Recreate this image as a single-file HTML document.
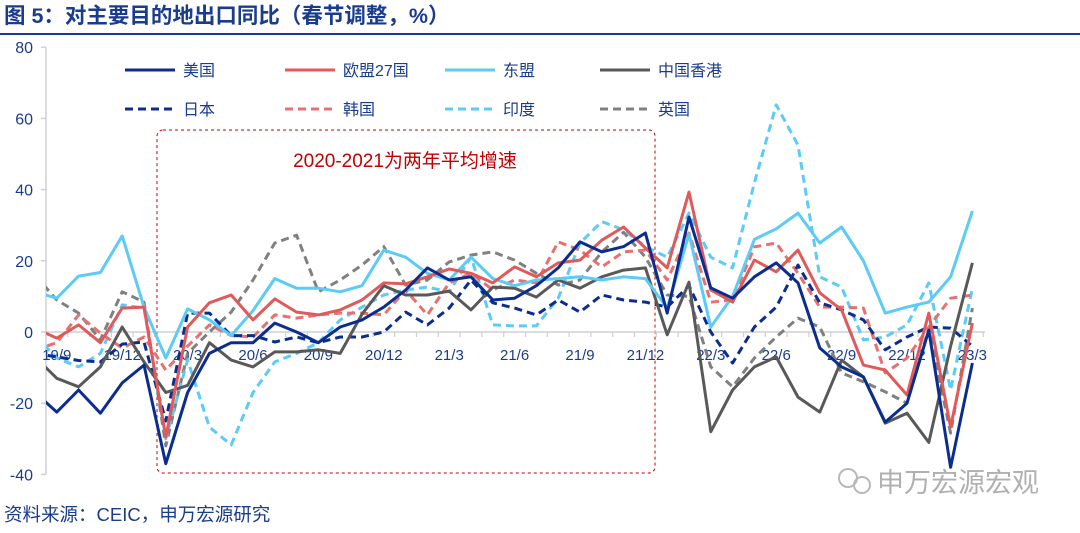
<!DOCTYPE html>
<html><head><meta charset="utf-8"><style>
body{margin:0;width:1080px;height:528px;background:#fff;overflow:hidden;font-family:"Liberation Sans","Noto Sans CJK SC",sans-serif;}
</style></head><body>
<svg id="chart" width="1080" height="528" xmlns="http://www.w3.org/2000/svg" font-family="Liberation Sans, Noto Sans CJK SC, sans-serif">
<text x="4" y="23" font-size="21.5" font-weight="bold" fill="#1a3c8c">图 5：对主要目的地出口同比（春节调整，%）</text>
<line x1="0" y1="34" x2="1080" y2="34" stroke="#1a3c8c" stroke-width="2"/>
<text x="4" y="521" font-size="18.5" fill="#1a3c8c">资料来源：CEIC，申万宏源研究</text>
<g fill="none" stroke="#b8b8b8" stroke-width="2">
<circle cx="848" cy="478" r="9"/><circle cx="862" cy="485" r="8"/>
</g>
<text x="877" y="492" font-size="27" fill="#b0b0b0">申万宏源宏观</text>
<defs><clipPath id="plotclip"><rect x="46" y="30" width="940" height="460"/></clipPath></defs>
<rect x="157" y="130" width="498" height="343" rx="6" fill="none" stroke="#c00000" stroke-width="1" stroke-dasharray="3,3"/>
<text x="405" y="167" font-size="19" fill="#c00000" text-anchor="middle">2020-2021为两年平均增速</text>
<g id="axes"></g>
<g id="series" clip-path="url(#plotclip)"></g>
<g id="legend"></g>
</svg>
<script>
const categories=["19/8","19/9","19/10","19/11","19/12","20/1","20/2","20/3","20/4","20/5","20/6","20/7","20/8","20/9","20/10","20/11","20/12","21/1","21/2","21/3","21/4","21/5","21/6","21/7","21/8","21/9","21/10","21/11","21/12","22/1","22/2","22/3","22/4","22/5","22/6","22/7","22/8","22/9","22/10","22/11","22/12","23/1","23/2","23/3"];
const xTickLabels=["19/9","19/12","20/3","20/6","20/9","20/12","21/3","21/6","21/9","21/12","22/3","22/6","22/9","22/12","23/3"];
const yTicks=[-40,-20,0,20,40,60,80];
const usVals=[-17,-22.5,-16.3,-22.8,-14.3,-9.3,-37,-17,-6,-3,-3,2.5,0,-3,1.4,3.4,7,11.8,18,14.6,15.5,9,9.5,13,18,25.3,22.5,24,27.8,5.3,32.3,12.4,9.5,15.5,19.4,13.8,-4.5,-9.8,-12.6,-25.3,-20,0.5,-38,-8.7];
const euVals=[1,-1.7,2,-3,6.7,7,-29.5,1.4,8.2,10.4,3.4,9.3,5.6,4.8,6.2,9,13.8,13.5,15.5,17.7,16.5,13.8,18.3,15.5,19.4,20.2,25.8,29.5,23.6,18,39.3,11.8,8.4,20.2,16.9,23,11,6.2,-9.3,-10.7,-17.7,5.3,-26.7,2.5];
const aseanVals=[11.3,9.5,15.7,16.7,27,7,-7.3,6.5,3.4,-1,6,15,12.3,12.3,11.3,13,23,21,16.5,14.6,21,15,13,14.6,15,15.5,14.6,15.5,15,6.7,27.5,1.4,10,26,29,33.4,25,29.5,20,5.3,7,8.4,15.5,34];
const hkVals=[-7,-13,-15.4,-9.8,1.4,-8.4,-17,-15,-3,-7.9,-9.8,-5.6,-5.6,-5,-6,5,13,10.4,10.4,11.5,6.2,12.6,12.3,9.8,14.6,12.3,15.5,17.4,18,-0.8,14,-28,-16.3,-9.8,-7,-18.3,-22.5,-7.9,-12.6,-25.6,-22.8,-31,-4,19.4];
const japanVals=[-6,-7,-8,-8.4,-3.4,-2.8,-25,5.3,5.3,-1,-1,-2.8,-1.4,-3,-1.4,-1.4,0,5.6,2,6.7,14.6,8.2,6.7,4.8,9,5.6,10.4,9,8.4,7,13,0,-8.7,1.4,7,18.8,8.2,6.2,3.4,-5,-1.4,1.4,1.1,-4];
const koreaVals=[-5,-3,4.8,-0.3,-4.5,-1.4,-10.7,-4,2,-1,-1.4,4.8,3.9,4.8,5.3,5.3,4.8,11.8,4.8,13.8,16.5,11.8,14.6,13.8,25.3,23,18.3,22.5,23,14.6,27.8,8.4,9,23.9,25,16.5,7,7,6.7,-11.5,-7.3,1.4,9.5,10.4];
const indiaVals=[-1,-7.3,-9.8,-6,7.6,6.7,-30,-7.9,-26.7,-31.7,-17,-8.4,-6,-3,3.4,7,10.4,11.8,12.6,11.3,21,2,1.7,1.7,9.5,25,31,28.7,24,21,33.4,21,18,41.9,63.8,52.5,15.5,12.6,-2.2,-1.4,2,13.8,-16.3,12.3];
const ukVals=[16,9,5.3,-2.2,11.3,8.4,-32,-6,0,5.6,14.6,25,27.2,11.3,14.6,18.8,24,13.2,14.6,19.7,21.6,22.5,20.2,16.5,13.2,14.6,22.5,28,21,10.4,10,-9.8,-15.4,-7.3,-1.4,3.9,1.4,-11.5,-14,-16.8,-20,1.1,-28.4,6.7];

const NS="http://www.w3.org/2000/svg";
const X0=35, DX=21.8, Y0=332, PY=3.56;
function xs(i){return X0+i*DX;}
function ys(v){return Y0-v*PY;}
function mk(tag,attrs,parent){const e=document.createElementNS(NS,tag);for(const k in attrs)e.setAttribute(k,attrs[k]);parent.appendChild(e);return e;}
const axes=document.getElementById('axes');
const yl=mk('line',{x1:46,y1:ys(80),x2:46,y2:ys(-40),stroke:'#d0d0d0','stroke-width':1.5},axes);


yTicks.forEach(v=>{
  const t=mk('text',{x:33,y:ys(v)+6,'font-size':16,'text-anchor':'end',fill:'#1a3c8c'},axes);
  t.textContent=v;
  
  
  const tk=mk('line',{x1:41,y1:ys(v),x2:46,y2:ys(v),stroke:'#d0d0d0','stroke-width':1.5},axes);
  
  
});
const xl=mk('line',{x1:46,y1:ys(0),x2:985,y2:ys(0),stroke:'#d0d0d0','stroke-width':1.5},axes);


for(let i=1;i<categories.length;i++){
  const tk=mk('line',{x1:xs(i)+DX/2,y1:ys(0),x2:xs(i)+DX/2,y2:ys(0)+5,stroke:'#d0d0d0','stroke-width':1.2},axes);
  
  
}
xTickLabels.forEach(lab=>{
  const i=categories.indexOf(lab);
  const t=mk('text',{x:xs(i),y:ys(0)+28,'font-size':15,'text-anchor':'middle',fill:'#1a3c8c'},axes);
  t.textContent=lab;
  
  
});
const seriesDefs=[
 ['us',usVals,'#0b2d8f','','美国'],
 ['eu27',euVals,'#e05a5a','','欧盟27国'],
 ['asean',aseanVals,'#5ccbf5','','东盟'],
 ['hong-kong',hkVals,'#595959','','中国香港'],
 ['japan',japanVals,'#0b2d8f','8,5','日本'],
 ['korea',koreaVals,'#e87070','8,5','韩国'],
 ['india',indiaVals,'#5ccbf5','8,5','印度'],
 ['uk',ukVals,'#808080','8,5','英国']
];
const sg=document.getElementById('series');
seriesDefs.slice().reverse().forEach(([nm,vals,col,dash])=>{
  const d=vals.map((v,i)=>(i?'L':'M')+xs(i).toFixed(1)+','+ys(v).toFixed(1)).join(' ');
  const p=mk('path',{d:d,fill:'none',stroke:col,'stroke-width':3,'stroke-dasharray':dash,'stroke-linejoin':'round'},sg);
  
  
});
const lg=document.getElementById('legend');
const lx=[125,285,445,600], lyy=[70,109];
seriesDefs.forEach(([nm,vals,col,dash,label],k)=>{
  const cx=lx[k%4], cy=lyy[Math.floor(k/4)];
  const g=mk('g',{},lg);
  
  
  mk('line',{x1:cx,y1:cy,x2:cx+50,y2:cy,stroke:col,'stroke-width':3,'stroke-dasharray':dash},g);
  const t=mk('text',{x:cx+58,y:cy+6,'font-size':16,fill:'#1a3c8c'},g);
  t.textContent=label;
});
</script>
</body></html>
